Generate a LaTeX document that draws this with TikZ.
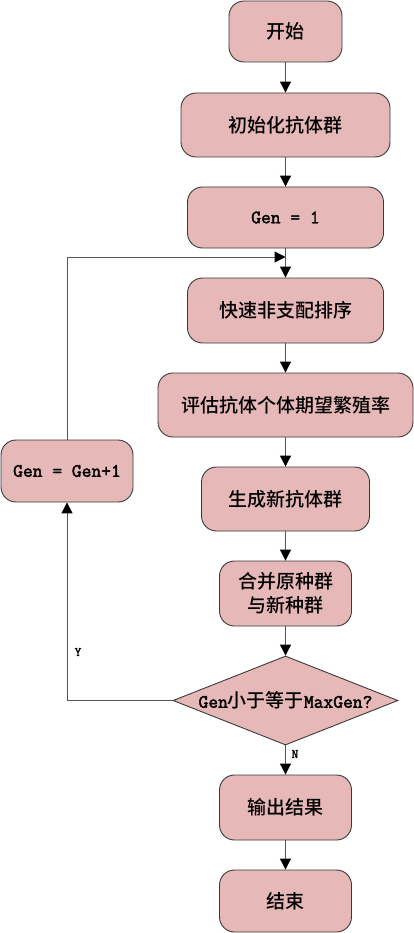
\documentclass[tikz,border=0pt]{standalone}
\usepackage{fontspec}
\setmainfont{Noto Sans CJK SC}[BoldFont={Noto Sans CJK SC Medium}]
\setmonofont{Latin Modern Mono}[AutoFakeBold=2]
\usepackage{tikz}
\usetikzlibrary{arrows.meta,shapes.geometric}

\definecolor{boxfill}{HTML}{E6B8B7}
\definecolor{boxline}{HTML}{3A3A3A}
\definecolor{flowline}{HTML}{555555}

\begin{document}
\begin{tikzpicture}[x=1pt,y=-1pt,
	stepbox/.style={draw=boxline, fill=boxfill, rounded corners=15pt, line width=0.9pt,
		inner sep=0pt, align=center, font=\fontsize{19}{24}\selectfont\bfseries},
	choice/.style={draw=boxline, fill=boxfill, diamond, line width=0.9pt, inner sep=0pt,
		minimum width=225pt, minimum height=89pt, aspect=2.53},
	flow/.style={draw=flowline, line width=1pt, -{Triangle[length=11pt,width=11pt,black]}},
	yn/.style={font=\ttfamily\bfseries\fontsize{13}{13}\selectfont}]
	\useasboundingbox (0,0) rectangle (414,933);
	
	\node[stepbox, minimum width=113pt, minimum height=61pt] (start)  at (285.5,31.5) {开始};
	\node[stepbox, minimum width=209pt, minimum height=64pt] (init)   at (285.5,125)  {初始化抗体群};
	\node[stepbox, minimum width=196pt, minimum height=61pt] (gen1)   at (285.5,217.5) {\texttt{Gen = 1}};
	\node[stepbox, minimum width=196pt, minimum height=65pt] (sort)   at (285.5,310.5) {快速非支配排序};
	\node[stepbox, minimum width=255pt, minimum height=64pt] (eval)   at (285.5,405)  {评估抗体个体期望繁殖率};
	\node[stepbox, minimum width=168pt, minimum height=64pt] (newpop) at (285.5,499)  {生成新抗体群};
	\node[stepbox, minimum width=132pt, minimum height=65pt] (merge)  at (285.5,593.5) {合并原种群\\与新种群};
	\node[choice, label={center:\fontsize{19}{24}\selectfont\bfseries\texttt{Gen}小于等于\texttt{MaxGen?}}]
		(judge) at (285.5,700.5) {};
	\node[stepbox, minimum width=132pt, minimum height=65pt] (output) at (285.5,807.5) {输出结果};
	\node[stepbox, minimum width=132pt, minimum height=62pt] (stop)   at (285.5,901)  {结束};
	\node[stepbox, minimum width=132pt, minimum height=62pt] (genplus) at (67,471)    {\texttt{Gen = Gen+1}};	%loop
	
	\coordinate (join) at (285.5,257);	%loop back
	
	\draw[flow] (start) -- (init);
	\draw[flow] (init) -- (gen1);
	\draw[flow] (gen1) -- (sort);
	\draw[flow] (sort) -- (eval);
	\draw[flow] (eval) -- (newpop);
	\draw[flow] (newpop) -- (merge);
	\draw[flow] (merge) -- (judge);
	\draw[flow] (judge) -- (output);
	\draw[flow] (output) -- (stop);
	\draw[flow] (judge.west) -| (genplus.south);	%Y
	\draw[flow] (genplus.north) |- (join);
	
	\node[yn] (ylabel) at (78,652) {Y};
	\node[yn] (nlabel) at (295,754) {N};
\end{tikzpicture}
\end{document}
